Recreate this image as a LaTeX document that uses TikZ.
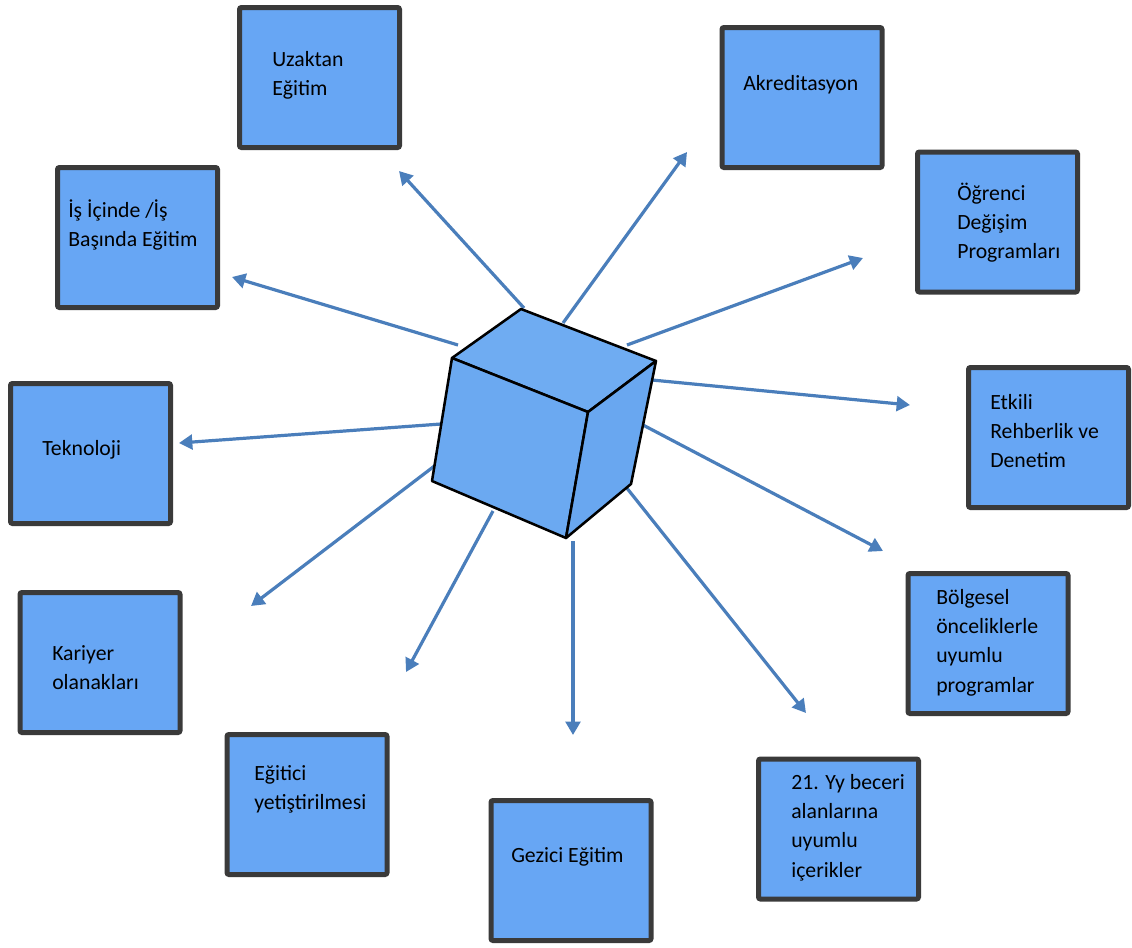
\documentclass[tikz,border=0pt]{standalone}
\usepackage{fontspec}
\setmainfont{Carlito}
\usetikzlibrary{arrows.meta}
\definecolor{boxblue}{HTML}{67A6F4}
\definecolor{boxedge}{HTML}{3A3A3A}
\definecolor{arrowblue}{HTML}{4A7EBB}
\definecolor{cubetop}{HTML}{6FACF2}
\definecolor{cubefront}{HTML}{6BA9F1}
\definecolor{cubeside}{HTML}{69A7F0}
\tikzset{
  topic/.style={draw=boxedge, fill=boxblue, line width=3.75pt, rounded corners=1.5pt,
    minimum width=120pt, minimum height=105pt, inner sep=0pt},
  boxtext/.style={anchor=base west, inner sep=0pt, font=\fontsize{16.3}{22}\selectfont},
  link/.style={draw=arrowblue, line width=2.4pt, -{Triangle[width=11pt,length=10pt]}},
  face/.style={draw=black, line width=1.9pt, line join=round},
}
\begin{document}
\begin{tikzpicture}[x=0.75pt, y=-0.75pt]
\useasboundingbox (0,0) rectangle (1132,947);

% surrounding topic boxes
\node[topic] (uzaktan)  at (319.5,77.5)  {};
\node[topic] (akred)    at (802,97.5)    {};
\node[topic] (isici)    at (137.5,237.5) {};
\node[topic] (ogrenci)  at (997.5,222)   {};
\node[topic] (etkili)   at (1048.5,437.5){};
\node[topic] (tekno)    at (90.5,453.5)  {};
\node[topic] (bolge)    at (988,643.5)   {};
\node[topic] (kariyer)  at (100,662.5)   {};
\node[topic] (egitici)  at (307,804.5)   {};
\node[topic] (yy)       at (838.5,829)   {};
\node[topic] (gezici)   at (571,870.5)   {};

% box captions
\node[boxtext] (uzaktan-t) at (272,66)  {\vtop{\hbox{Uzaktan}\hbox{Eğitim}}};
\node[boxtext] (akred-t)   at (743,90)  {Akreditasyon};
\node[boxtext] (isici-t)   at (68,217)  {\vtop{\hbox{İş İçinde /İş}\hbox{Başında Eğitim}}};
\node[boxtext] (ogrenci-t) at (957,200) {\vtop{\hbox{Öğrenci}\hbox{Değişim}\hbox{Programları}}};
\node[boxtext] (etkili-t)  at (990,409) {\vtop{\hbox{Etkili}\hbox{Rehberlik ve}\hbox{Denetim}}};
\node[boxtext] (tekno-t)   at (42,455)  {Teknoloji};
\node[boxtext] (bolge-t)   at (936,604) {\vtop{\hbox{Bölgesel}\hbox{önceliklerle}\hbox{uyumlu}\hbox{programlar}}};
\node[boxtext] (kariyer-t) at (52,660)  {\vtop{\hbox{Kariyer}\hbox{olanakları}}};
\node[boxtext] (egitici-t) at (254,780) {\vtop{\hbox{Eğitici}\hbox{yetiştirilmesi}}};
\node[boxtext] (yy-t)      at (791,789) {\vtop{\hbox{21. Yy beceri}\hbox{alanlarına}\hbox{uyumlu}\hbox{içerikler}}};
\node[boxtext] (gezici-t)  at (511,862) {Gezici Eğitim};

% arrow start points on the cube and free arrow ends
\coordinate (s-uzaktan) at (524,308);  \coordinate (e-uzaktan) at (399,171);
\coordinate (s-akred)   at (563,323);  \coordinate (e-akred)   at (687,152);
\coordinate (s-isici)   at (458,345);  \coordinate (e-isici)   at (232,277);
\coordinate (s-ogrenci) at (627,345);  \coordinate (e-ogrenci) at (863,258);
\coordinate (s-etkili)  at (652,380);  \coordinate (e-etkili)  at (910,405);
\coordinate (s-tekno)   at (441,424);  \coordinate (e-tekno)   at (179,443);
\coordinate (s-bolge)   at (643,425);  \coordinate (e-bolge)   at (883,551);
\coordinate (s-kariyer) at (441,461);  \coordinate (e-kariyer) at (251,606);
\coordinate (s-egitici) at (493,511);  \coordinate (e-egitici) at (406,672);
\coordinate (s-gezici)  at (573,541);  \coordinate (e-gezici)  at (573,735);
\coordinate (s-yy)      at (626,487);  \coordinate (e-yy)      at (806,713);

\foreach \n in {uzaktan,akred,isici,ogrenci,etkili,tekno,bolge,kariyer,egitici,gezici,yy}
  \draw[link] (s-\n) -- (e-\n);

% central cube
\coordinate (cB)  at (521,309);
\coordinate (cL)  at (452,358);
\coordinate (cR)  at (656,361);
\coordinate (cF)  at (588,412);
\coordinate (cLB) at (432,481);
\coordinate (cFB) at (566,538);
\coordinate (cRB) at (631,484);
\filldraw[face, fill=cubetop]   (cB) -- (cL) -- (cF) -- (cR) -- cycle;
\filldraw[face, fill=cubefront] (cL) -- (cF) -- (cFB) -- (cLB) -- cycle;
\filldraw[face, fill=cubeside]  (cF) -- (cR) -- (cRB) -- (cFB) -- cycle;
\end{tikzpicture}
\end{document}
